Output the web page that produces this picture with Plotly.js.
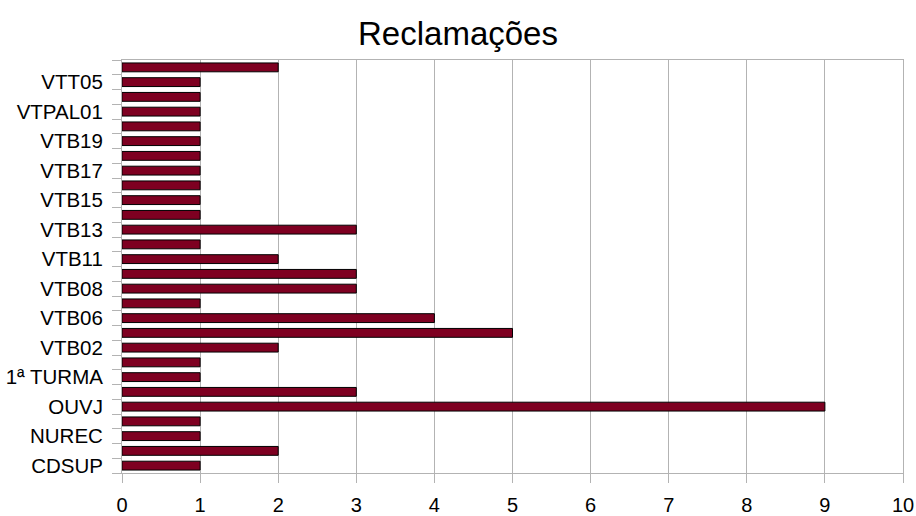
<!DOCTYPE html>
<html>
<head>
<meta charset="utf-8">
<script src="https://cdn.plot.ly/plotly-3.0.1.min.js"></script>
<style>html,body{margin:0;padding:0;background:#fff;}#chart{width:916px;height:516px;}</style>
</head>
<body>
<div id="chart"></div>
<script>
// categories from bottom to top
const categories = ["CDSUP","CORREG","NUREC","OUVIDORIA","OUVJ","PRESI","1ª TURMA","VTB01","VTB02","VTB05","VTB06","VTB07","VTB08","VTB10","VTB11","VTB12","VTB13","VTB14","VTB15","VTB16","VTB17","VTB18","VTB19","VTB20","VTPAL01","VTPAL02","VTT05","VTT06"];
const values = [1,2,1,1,9,3,1,1,2,5,4,1,3,3,2,1,3,1,1,1,1,1,1,1,1,1,1,2];
const shownLabels = ["CDSUP","NUREC","OUVJ","1ª TURMA","VTB02","VTB06","VTB08","VTB11","VTB13","VTB15","VTB17","VTB19","VTPAL01","VTT05"];
const xTicks = [0,1,2,3,4,5,6,7,8,9,10];

const tickText = categories.map(c => shownLabels.includes(c) ? c : "");

const trace = {
  type: "bar",
  orientation: "h",
  x: values,
  y: categories,
  width: 0.6,
  marker: {color: "#7e0021", line: {color: "#000000", width: 1}},
  hoverinfo: "x+y"
};

const layout = {
  width: 916, height: 516,
  margin: {l: 122, r: 13, t: 60, b: 43},
  paper_bgcolor: "#ffffff",
  plot_bgcolor: "#ffffff",
  font: {family: "Liberation Sans, Arial, sans-serif", color: "#000000", size: 20},
  title: {text: "Reclamações", x: 0.5, xanchor: "center", y: 0.935, yanchor: "middle", font: {size: 33, family: "Liberation Sans, Arial, sans-serif", color: "#000"}},
  showlegend: false,
  xaxis: {
    range: [0, 10],
    tickmode: "array", tickvals: xTicks, ticktext: xTicks.map(String),
    showgrid: true, gridcolor: "#b3b3b3", gridwidth: 1,
    zeroline: false,
    showline: true, linecolor: "#b3b3b3", linewidth: 1, mirror: true,
    ticks: "outside", ticklen: 9, tickcolor: "#b3b3b3",
    ticklabelstandoff: 5,
    tickfont: {size: 20},
    fixedrange: true
  },
  yaxis: {
    type: "category",
    categoryorder: "array", categoryarray: categories,
    range: [-0.5, categories.length - 0.5],
    tickmode: "array", tickvals: categories, ticktext: tickText,
    tickson: "boundaries",
    ticks: "outside", ticklen: 9, tickcolor: "#b3b3b3",
    ticklabelstandoff: 14,
    showgrid: false, zeroline: false,
    showline: true, linecolor: "#b3b3b3", linewidth: 1, mirror: true,
    tickfont: {size: 20.5},
    fixedrange: true
  }
};

Plotly.newPlot("chart", [trace], layout, {displayModeBar: false, staticPlot: true});
</script>
</body>
</html>
